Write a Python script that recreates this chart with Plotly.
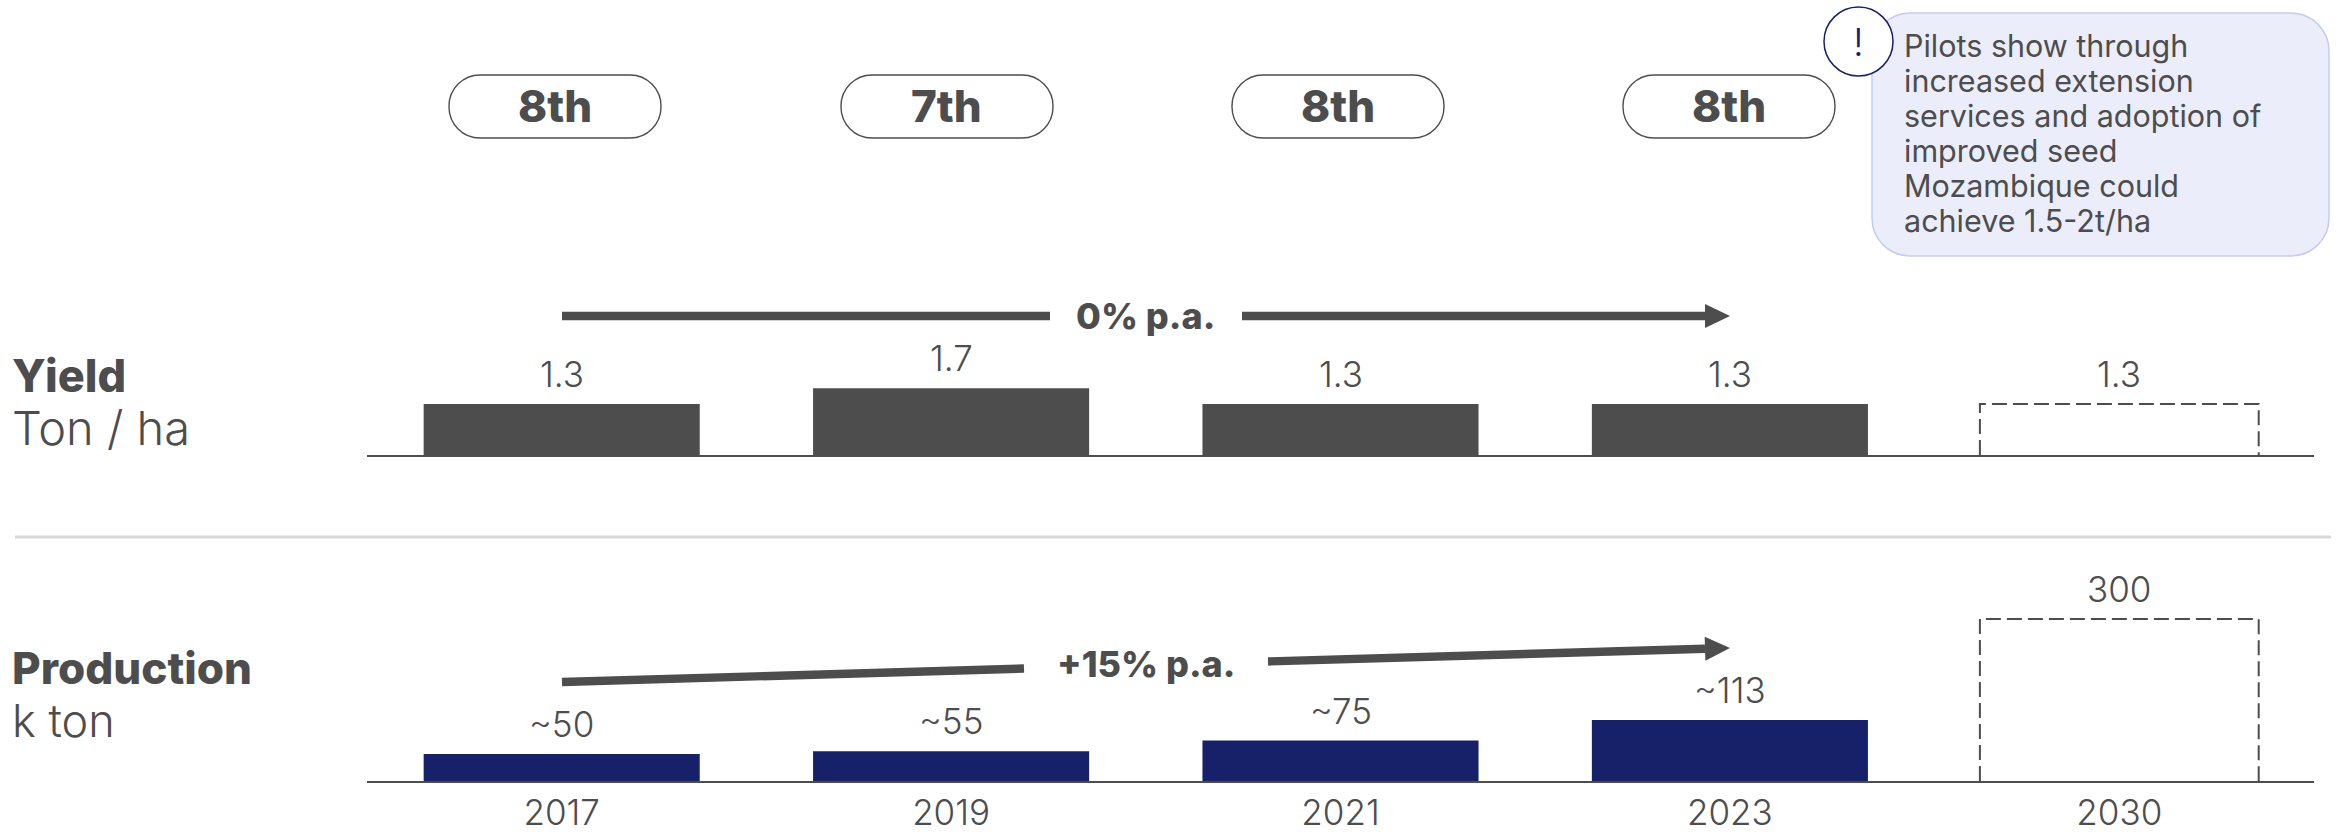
import math
import plotly.graph_objects as go

W, H = 2341, 832

# Chart data
years = ["2017", "2019", "2021", "2023", "2030"]
yield_actual = [1.3, 1.7, 1.3, 1.3]
yield_target = 1.3
yield_labels = ["1.3", "1.7", "1.3", "1.3", "1.3"]
prod_actual = [50, 55, 75, 113]
prod_target = 300
prod_labels = ["~50", "~55", "~75", "~113", "300"]
rankings = ["8th", "7th", "8th", "8th"]
callout_lines = [
    "Pilots show through",
    "increased extension",
    "services and adoption of",
    "improved seed",
    "Mozambique could",
    "achieve 1.5-2t/ha",
]

FONT = "Inter"
GREY = "#4d4d4d"
NAVY = "#172169"
BAR_W = 0.709
idx = list(range(len(years)))


def px(x):
    return x / W


def py(y):
    return 1 - y / H


def rounded_path(x0, y0, x1, y1, r):
    k = r * 0.4477
    c = lambda a, b: f"{px(a):.6f},{py(b):.6f}"
    return (
        f"M{c(x0 + r, y0)} L{c(x1 - r, y0)} "
        f"C{c(x1 - k, y0)} {c(x1, y0 + k)} {c(x1, y0 + r)} L{c(x1, y1 - r)} "
        f"C{c(x1, y1 - k)} {c(x1 - k, y1)} {c(x1 - r, y1)} L{c(x0 + r, y1)} "
        f"C{c(x0 + k, y1)} {c(x0, y1 - k)} {c(x0, y1 - r)} L{c(x0, y0 + r)} "
        f"C{c(x0, y0 + k)} {c(x0 + k, y0)} {c(x0 + r, y0)} Z"
    )


def poly_path(points):
    return "M" + " L".join(f"{px(a):.6f},{py(b):.6f}" for a, b in points) + " Z"


def arrow_shapes(x0, y0, x1, y1, gap0, gap1):
    """Thick growth arrow with a break in the shaft for its label."""
    dx, dy = x1 - x0, y1 - y0
    length = math.hypot(dx, dy)
    ux, uy = dx / length, dy / length
    nx, ny = -uy, ux
    half, head_len, head_half = 4.2, 25, 12
    shapes = []
    at = lambda d, o: (x0 + ux * d + nx * o, y0 + uy * d + ny * o)
    seg0 = (gap0 - x0) / ux
    seg1 = (gap1 - x0) / ux
    neck = length - head_len
    for a, b in ((0, seg0), (seg1, neck)):
        pts = [at(a, -half), at(b, -half), at(b, half), at(a, half)]
        shapes.append(dict(type="path", xref="paper", yref="paper", path=poly_path(pts),
                           fillcolor=GREY, line_width=0))
    pts = [at(neck, -head_half), at(length, 0), at(neck, head_half)]
    shapes.append(dict(type="path", xref="paper", yref="paper", path=poly_path(pts),
                       fillcolor=GREY, line_width=0))
    return shapes


def text_note(text, x, y, size, weight=400, color=GREY, anchor="center"):
    return dict(text=text, xref="paper", yref="paper", x=px(x), y=py(y), showarrow=False,
                xanchor=anchor, yanchor="middle", align="left" if anchor == "left" else "center",
                font=dict(family=FONT, size=size, color=color, weight=weight), borderpad=0)


def dashed_outline(value, xaxis, yaxis):
    xs = [4 - 0.358, 4 - 0.358, 4 + 0.358, 4 + 0.358]
    return go.Scatter(x=xs, y=[0, value, value, 0], xaxis=xaxis, yaxis=yaxis, mode="lines",
                      line=dict(color=GREY, width=2, dash="15px,6px"), hoverinfo="skip",
                      showlegend=False)


fig = go.Figure()
fig.add_trace(go.Bar(x=idx[:4], y=yield_actual, width=BAR_W, marker_color=GREY,
                     marker_line_width=0, xaxis="x", yaxis="y", showlegend=False))
fig.add_trace(dashed_outline(yield_target, "x", "y"))
fig.add_trace(go.Bar(x=idx[:4], y=prod_actual, width=BAR_W, marker_color=NAVY,
                     marker_line_width=0, xaxis="x2", yaxis="y2", showlegend=False))
fig.add_trace(dashed_outline(prod_target, "x2", "y2"))

shapes = [
    # Separator between the two panels
    dict(type="line", xref="paper", yref="paper", x0=px(15), x1=px(2331), y0=py(537), y1=py(537),
         line=dict(color="#d9d9d9", width=3)),
    # Callout box and its badge
    dict(type="path", xref="paper", yref="paper", path=rounded_path(1872, 13, 2329, 256, 38),
         fillcolor="#ebedfa", line=dict(color="#c5ccf0", width=1.5)),
    dict(type="circle", xref="paper", yref="paper", x0=px(1824), x1=px(1893), y0=py(76), y1=py(7),
         fillcolor="white", line=dict(color=NAVY, width=1.5)),
]
# Ranking pills above each observed year
pill_lefts = [449, 841, 1232, 1623]
for left in pill_lefts:
    shapes.append(dict(type="path", xref="paper", yref="paper",
                       path=rounded_path(left, 75, left + 212, 138, 31),
                       fillcolor="white", line=dict(color=GREY, width=1.4)))
shapes += arrow_shapes(562, 316, 1730, 316, 1050, 1242)
shapes += arrow_shapes(562, 682, 1730, 648, 1024, 1268)

annotations = [
    text_note("Yield", 11, 376, 45, 800, anchor="left"),
    text_note("Ton / ha", 11, 427, 47, 300, anchor="left"),
    text_note("Production", 11, 668, 44, 800, anchor="left"),
    text_note("k ton", 11, 720, 45, 300, anchor="left"),
    text_note("0% p.a.", 1145, 316, 36, 800),
    text_note("+15% p.a.", 1146, 664, 36, 800),
    text_note("!", 1858, 42, 38, 300, NAVY),
]
# Callout copy, one annotation per line to keep the tight leading
for i, line in enumerate(callout_lines):
    annotations.append(text_note(line, 1903, 45.5 + 35 * i, 30.5, 400, GREY, "left"))
for left, rank in zip(pill_lefts, rankings):
    annotations.append(text_note(rank, left + 106, 106, 44, 800))

# Value labels sit at a fixed offset above each bar
for xaxis, yaxis, vals, labels in (
    ("x", "y", yield_actual + [yield_target], yield_labels),
    ("x2", "y2", prod_actual + [prod_target], prod_labels),
):
    for i, (v, lab) in enumerate(zip(vals, labels)):
        annotations.append(dict(text=lab, x=i, y=v, xref=xaxis, yref=yaxis, showarrow=False,
                                yanchor="middle", xanchor="center", yshift=30, borderpad=0,
                                font=dict(family=FONT, size=35, color=GREY, weight=300)))

x_common = dict(range=[-0.5, 4.5], domain=[px(367), px(2314)], tickmode="array", tickvals=idx,
                showgrid=False, zeroline=False, showline=True, linecolor=GREY, linewidth=2,
                fixedrange=True, automargin=False)
YIELD_PX, PROD_PX = 39.2, 0.54
yield_bottom, prod_bottom = 455, 781
prod_height = 240

fig.update_layout(
    width=W, height=H, margin=dict(l=0, r=0, t=0, b=0), autosize=False,
    paper_bgcolor="white", plot_bgcolor="rgba(0,0,0,0)", showlegend=False,
    font=dict(family=FONT, color=GREY),
    xaxis=dict(**x_common, anchor="y", ticktext=[""] * 5, showticklabels=False),
    xaxis2=dict(**x_common, anchor="y2", ticktext=years, ticks="", showticklabels=True,
                ticklabelstandoff=0,
                tickfont=dict(family=FONT, size=35, color=GREY, weight=300)),
    yaxis=dict(domain=[1 - yield_bottom / H, 1], range=[0, yield_bottom / YIELD_PX], visible=False,
               fixedrange=True, automargin=False),
    yaxis2=dict(domain=[1 - prod_bottom / H, 1 - (prod_bottom - prod_height) / H],
                range=[0, prod_height / PROD_PX], visible=False, fixedrange=True, automargin=False),
    shapes=shapes, annotations=annotations,
)

fig.write_html("out.html", config=dict(displayModeBar=False))
